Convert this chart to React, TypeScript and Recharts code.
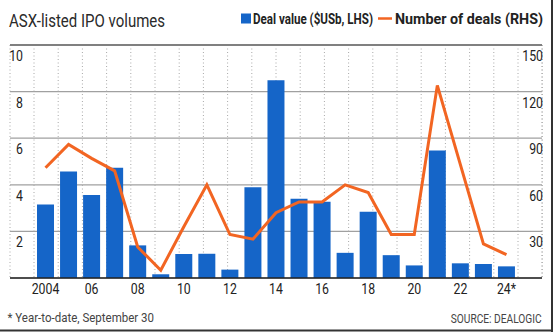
import React from 'react';
import { ComposedChart, Bar, Line, XAxis, YAxis, CartesianGrid, ReferenceLine } from 'recharts';

const years = ['2004', '2005', '2006', '2007', '2008', '2009', '2010', '2011', '2012', '2013', '2014', '2015', '2016', '2017', '2018', '2019', '2020', '2021', '2022', '2023', '2024'];
const yearLabels = ['2004', '', '06', '', '08', '', '10', '', '12', '', '14', '', '16', '', '18', '', '20', '', '22', '', '24*'];
const dealValue = [3.15, 4.57, 3.56, 4.73, 1.4, 0.16, 1.03, 1.04, 0.36, 3.9, 8.49, 3.4, 3.27, 1.08, 2.84, 0.98, 0.54, 5.47, 0.63, 0.6, 0.5];
const dealCount = [71, 86, 77, 69, 20, 5, 33, 60, 28, 25, 42, 49, 49, 60, 55, 28, 28, 124, 73, 22, 15];
const leftTicks = [0, 2, 4, 6, 8, 10];
const rightTicks = [0, 30, 60, 90, 120, 150];
const slotBounds = [0, 1, 2, 3, 4, 5, 6, 7, 8, 9, 10, 11, 12, 13, 14, 15, 16, 17, 18, 19, 20, 21];

const FONT = 'Roboto, "Liberation Sans", sans-serif';
const BLUE = '#1565c8';
const ORANGE = '#f26522';
const TEXT = '#222';
const SQUEEZE = 0.82;

const data = years.map((y, i) => ({ year: y, value: dealValue[i], deals: dealCount[i] }));

const NarrowText = ({ x, y, anchor, children, size = 15, fill = TEXT, squeeze = SQUEEZE }: any) => (
  <text
    transform={`translate(${x},${y}) scale(${squeeze},1)`}
    textAnchor={anchor}
    fontSize={size}
    fill={fill}
    fontFamily={FONT}
  >
    {children}
  </text>
);

const renderLeftTick = (props: any) => {
  const { x, y, payload } = props;
  if (payload.value === 0) return <g key={`l${payload.value}`} />;
  return (
    <g key={`l${payload.value}`}>
      <NarrowText x={x + 13} y={y + 16} anchor="end">{payload.value}</NarrowText>
    </g>
  );
};

const renderRightTick = (props: any) => {
  const { x, y, payload } = props;
  if (payload.value === 0) return <g key={`r${payload.value}`} />;
  return (
    <g key={`r${payload.value}`}>
      <NarrowText x={x + 1} y={y + 16} anchor="end">{payload.value}</NarrowText>
    </g>
  );
};

const renderXTick = (props: any) => {
  const { x, y, payload } = props;
  const label = yearLabels[years.indexOf(payload.value)];
  if (!label) return <g key={`x${payload.value}`} />;
  return (
    <g key={`x${payload.value}`}>
      <NarrowText x={x} y={y + 16} anchor="middle">{label}</NarrowText>
    </g>
  );
};

export default function App() {
  return (
    <div style={{ position: 'fixed', left: 0, top: 0, width: 553, height: 332, background: '#fff', overflow: 'hidden' }}>
      <div style={{ position: 'absolute', left: 0, top: 0 }}>
        <ComposedChart width={553} height={332} data={data} margin={{ top: 45, right: 10, bottom: 0, left: 9 }}>
          <CartesianGrid yAxisId="left" vertical={false} stroke="#a0a0a0" strokeWidth={1.2} />
          <CartesianGrid xAxisId="grid" yAxisId="left" horizontal={false} stroke="#a8a8a8" strokeDasharray="1 2.5" />
          <XAxis
            xAxisId="grid"
            type="number"
            domain={[0, 21]}
            ticks={slotBounds}
            padding={{ left: 24, right: 24 }}
            hide
          />
          <XAxis
            dataKey="year"
            interval={0}
            padding={{ left: 24, right: 24 }}
            height={54}
            tickLine={false}
            tickSize={0}
            tickMargin={0}
            axisLine={{ stroke: '#222', strokeWidth: 1.5 }}
            tick={renderXTick}
          />
          <YAxis
            yAxisId="left"
            domain={[0, 10]}
            ticks={leftTicks}
            width={1}
            axisLine={false}
            tickLine={false}
            tickSize={0}
            tickMargin={0}
            tick={renderLeftTick}
          />
          <YAxis
            yAxisId="right"
            orientation="right"
            domain={[0, 150]}
            ticks={rightTicks}
            width={1}
            axisLine={false}
            tickLine={false}
            tickSize={0}
            tickMargin={0}
            tick={renderRightTick}
          />
          <ReferenceLine yAxisId="left" y={10} stroke="#808080" strokeWidth={2} />
          <Bar yAxisId="left" dataKey="value" fill={BLUE} barSize={17} isAnimationActive={false} />
          <Line yAxisId="right" dataKey="deals" type="linear" stroke={ORANGE} strokeWidth={3} dot={false} isAnimationActive={false} />
        </ComposedChart>
      </div>
      <svg width={553} height={332} style={{ position: 'absolute', left: 0, top: 0, pointerEvents: 'none' }} fontFamily={FONT}>
        <text x={9} y={26.5} fontSize={19} fill="#2a2a2a" textLength={156} lengthAdjust="spacingAndGlyphs">ASX-listed IPO volumes</text>
        <rect x={241} y={13.5} width={10} height={10} fill={BLUE} />
        <text x={253} y={23.5} fontSize={14} fontWeight="bold" fill={TEXT} textLength={120} lengthAdjust="spacingAndGlyphs">Deal value ($USb, LHS)</text>
        <line x1={378} x2={392} y1={18.5} y2={18.5} stroke={ORANGE} strokeWidth={2.5} />
        <text x={395} y={23.5} fontSize={14} fontWeight="bold" fill={TEXT} textLength={148} lengthAdjust="spacingAndGlyphs">Number of deals (RHS)</text>
        <text x={7.5} y={322} fontSize={13} fill="#444" textLength={146.5} lengthAdjust="spacingAndGlyphs">* Year-to-date, September 30</text>
        <NarrowText x={541.7} y={322.5} anchor="end" size={13} fill="#444" squeeze={0.784}>SOURCE: DEALOGIC</NarrowText>
        <rect x={0} y={329.5} width={553} height={2} fill="#333" />
        <rect x={551} y={0} width={2} height={332} fill="#333" />
      </svg>
    </div>
  );
}
